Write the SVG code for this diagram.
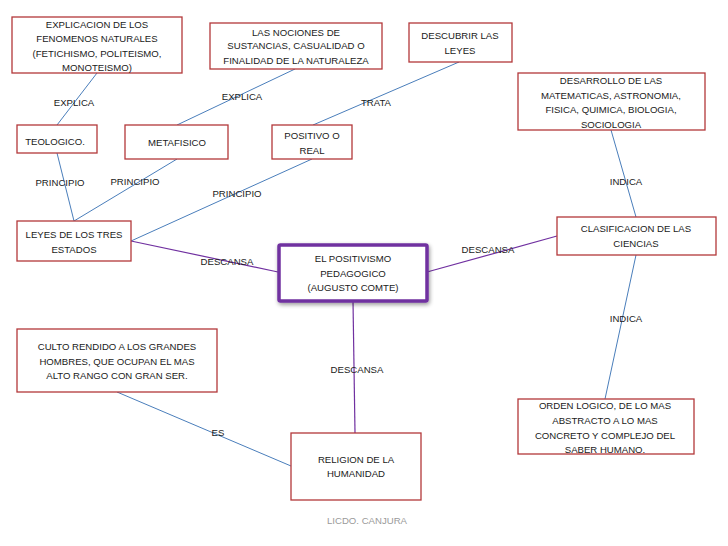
<svg xmlns="http://www.w3.org/2000/svg" width="728" height="546" viewBox="0 0 728 546">
<defs>
<style>
.box{fill:#fff;stroke:#b3383a;stroke-width:1.3}
.main{fill:#fff;stroke:#7030a0;stroke-width:3.5}
.t{font-family:"Liberation Sans",Arial,sans-serif;font-size:9.6px;fill:#1a1a1a;text-anchor:middle}
.lb{font-family:"Liberation Sans",Arial,sans-serif;font-size:9.6px;fill:#1a1a1a;text-anchor:middle}
.blue{stroke:#4a7ebb;stroke-width:1;fill:none}
.pur{stroke:#7030a0;stroke-width:1.2;fill:none}
.sig{font-family:"Liberation Sans",Arial,sans-serif;font-size:9.6px;fill:#9a9a9a;text-anchor:middle}
</style>
<filter id="sh" x="-10%" y="-10%" width="130%" height="140%">
<feGaussianBlur in="SourceAlpha" stdDeviation="2"/>
<feOffset dx="1" dy="2"/>
<feComponentTransfer><feFuncA type="linear" slope="0.4"/></feComponentTransfer>
<feMerge><feMergeNode/><feMergeNode in="SourceGraphic"/></feMerge>
</filter>
</defs>
<rect width="728" height="546" fill="#fff"/>
<g id="connectors">
<line class="blue" x1="97" y1="73" x2="57" y2="125"/>
<line class="blue" x1="295" y1="69" x2="177" y2="125"/>
<line class="blue" x1="459" y1="62" x2="313" y2="125"/>
<line class="blue" x1="57" y1="153" x2="74" y2="221"/>
<line class="blue" x1="177" y1="159" x2="74" y2="221"/>
<line class="blue" x1="312" y1="159" x2="131" y2="241"/>
<line class="pur" x1="131" y1="241" x2="278" y2="272"/>
<line class="pur" x1="427" y1="272" x2="557" y2="236"/>
<line class="pur" x1="353" y1="301" x2="355" y2="433"/>
<line class="blue" x1="611" y1="130" x2="636" y2="217"/>
<line class="blue" x1="636" y1="255" x2="605" y2="399"/>
<line class="blue" x1="117" y1="392" x2="291" y2="466"/>
</g>
<g id="labels">
<text class="lb" x="74" y="105.5">EXPLICA</text>
<text class="lb" x="242" y="100">EXPLICA</text>
<text class="lb" x="376" y="105.5">TRATA</text>
<text class="lb" x="60" y="185.5">PRINCIPIO</text>
<text class="lb" x="135" y="184.5">PRINCIPIO</text>
<text class="lb" x="237" y="196.5">PRINCIPIO</text>
<text class="lb" x="227" y="265">DESCANSA</text>
<text class="lb" x="488" y="252.5">DESCANSA</text>
<text class="lb" x="357" y="372.5">DESCANSA</text>
<text class="lb" x="626" y="185">INDICA</text>
<text class="lb" x="626" y="321.5">INDICA</text>
<text class="lb" x="218" y="435.5">ES</text>
</g>
<g id="n-explicacion">
<rect class="box" x="12" y="17" width="170" height="56"/>
<text class="t" x="97" y="27.5">EXPLICACION DE LOS</text>
<text class="t" x="97" y="42">FENOMENOS NATURALES</text>
<text class="t" x="97" y="56.5">(FETICHISMO, POLITEISMO,</text>
<text class="t" x="97" y="71">MONOTEISMO)</text>
</g>
<g id="n-nociones">
<rect class="box" x="210" y="23" width="172" height="46"/>
<text class="t" x="296" y="35.5">LAS NOCIONES DE</text>
<text class="t" x="296" y="49">SUSTANCIAS, CASUALIDAD O</text>
<text class="t" x="296" y="63.5">FINALIDAD DE LA NATURALEZA</text>
</g>
<g id="n-descubrir">
<rect class="box" x="409" y="23" width="103" height="39"/>
<text class="t" x="460" y="38.5">DESCUBRIR LAS</text>
<text class="t" x="460" y="53.5">LEYES</text>
</g>
<g id="n-desarrollo">
<rect class="box" x="518" y="73" width="187" height="57"/>
<text class="t" x="611" y="83.5">DESARROLLO DE  LAS</text>
<text class="t" x="611" y="98.5">MATEMATICAS, ASTRONOMIA,</text>
<text class="t" x="611" y="112.5">FISICA, QUIMICA, BIOLOGIA,</text>
<text class="t" x="611" y="127.5">SOCIOLOGIA</text>
</g>
<g id="n-teologico">
<rect class="box" x="17" y="125" width="80" height="28"/>
<text class="t" x="55" y="144.5">TEOLOGICO.</text>
</g>
<g id="n-metafisico">
<rect class="box" x="125" y="125" width="103" height="34"/>
<text class="t" x="177" y="145.5">METAFISICO</text>
</g>
<g id="n-positivo">
<rect class="box" x="272" y="125" width="80" height="34"/>
<text class="t" x="312" y="138.5">POSITIVO O</text>
<text class="t" x="312" y="153.5">REAL</text>
</g>
<g id="n-leyes">
<rect class="box" x="17" y="221" width="114" height="40"/>
<text class="t" x="74" y="237.5">LEYES DE LOS TRES</text>
<text class="t" x="74" y="252.5">ESTADOS</text>
</g>
<g id="n-main">
<rect class="main" x="279" y="245" width="148" height="56" rx="1.5" filter="url(#sh)"/>
<text class="t" x="353" y="261.5">EL POSITIVISMO</text>
<text class="t" x="353" y="276.5">PEDAGOGICO</text>
<text class="t" x="353" y="290.5">(AUGUSTO COMTE)</text>
</g>
<g id="n-clasificacion">
<rect class="box" x="557" y="217" width="159" height="38"/>
<text class="t" x="636" y="231.5">CLASIFICACION DE LAS</text>
<text class="t" x="636" y="246.5">CIENCIAS</text>
</g>
<g id="n-culto">
<rect class="box" x="17" y="329" width="200" height="63"/>
<text class="t" x="117" y="349.5">CULTO RENDIDO A LOS GRANDES</text>
<text class="t" x="117" y="364.5">HOMBRES, QUE OCUPAN EL MAS</text>
<text class="t" x="117" y="379">ALTO RANGO CON GRAN SER.</text>
</g>
<g id="n-orden">
<rect class="box" x="518" y="399" width="176" height="55"/>
<text class="t" x="605" y="408.5">ORDEN LOGICO, DE LO MAS</text>
<text class="t" x="605" y="423.5">ABSTRACTO A LO MAS</text>
<text class="t" x="605" y="438.5">CONCRETO Y COMPLEJO DEL</text>
<text class="t" x="605" y="452.5">SABER HUMANO.</text>
</g>
<g id="n-religion">
<rect class="box" x="291" y="433" width="130" height="67"/>
<text class="t" x="356" y="462.5">RELIGION DE LA</text>
<text class="t" x="356" y="476.5">HUMANIDAD</text>
</g>
<text class="sig" x="367" y="523.5">LICDO. CANJURA</text>
</svg>
